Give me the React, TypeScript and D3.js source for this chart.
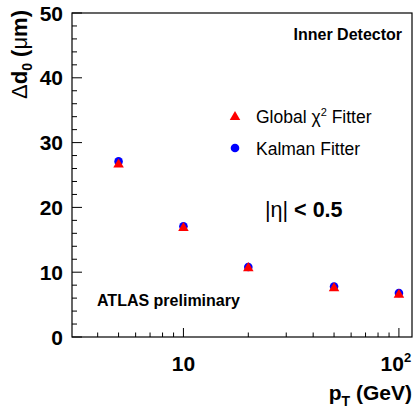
import React, { useEffect, useRef } from 'react';
import * as d3 from 'd3';

// pT points (GeV) and resolution values (um)
const ptValues = [5, 10, 20, 50, 100];
const globalChi2 = [26.7, 16.9, 10.7, 7.6, 6.6];
const kalman = [27.1, 17.1, 10.8, 7.8, 6.8];
const yTicks = [0, 10, 20, 30, 40, 50];

const FONT = '"Liberation Sans", Arial, Helvetica, sans-serif';

const App = () => {
  const svgRef = useRef<SVGSVGElement | null>(null);

  useEffect(() => {
    if (!svgRef.current) return;
    const width = 416;
    const height = 412;
    const m = { left: 72, top: 13, right: 412, bottom: 337 };

    const svg = d3.select(svgRef.current)
      .attr('width', width)
      .attr('height', height)
      .style('display', 'block')
      .style('font-family', FONT);
    svg.selectAll('*').remove();

    const x = d3.scaleLog().domain([3.04, 115]).range([m.left, m.right]);
    const y = d3.scaleLinear().domain([0, 50]).range([m.bottom, m.top]);

    // frame
    svg.append('rect')
      .attr('x', m.left).attr('y', m.top)
      .attr('width', m.right - m.left).attr('height', m.bottom - m.top)
      .attr('fill', 'white').attr('stroke', 'black').attr('stroke-width', 1.2);

    // y ticks (minor every 2)
    const yMinor = d3.range(0, 51, 2).filter(v => v % 10 !== 0);
    svg.append('g').selectAll('line').data(yTicks).join('line')
      .attr('x1', m.left).attr('x2', m.left + 10)
      .attr('y1', d => y(d)).attr('y2', d => y(d))
      .attr('stroke', 'black').attr('stroke-width', 1);
    svg.append('g').selectAll('line').data(yMinor).join('line')
      .attr('x1', m.left).attr('x2', m.left + 5)
      .attr('y1', d => y(d)).attr('y2', d => y(d))
      .attr('stroke', 'black').attr('stroke-width', 1);
    svg.append('g').selectAll('text').data(yTicks).join('text')
      .attr('x', m.left - 9).attr('y', d => y(d))
      .attr('dy', '0.36em')
      .attr('text-anchor', 'end')
      .attr('font-size', 21).attr('font-weight', 'bold')
      .text(d => d);

    // x ticks (log)
    const xMajor = [10, 100];
    const xMinor = [4, 5, 6, 7, 8, 9, 20, 30, 40, 50, 60, 70, 80, 90];
    svg.append('g').selectAll('line').data(xMajor).join('line')
      .attr('x1', d => x(d)).attr('x2', d => x(d))
      .attr('y1', m.bottom).attr('y2', m.bottom - 9)
      .attr('stroke', 'black');
    svg.append('g').selectAll('line').data(xMinor).join('line')
      .attr('x1', d => x(d)).attr('x2', d => x(d))
      .attr('y1', m.bottom).attr('y2', m.bottom - 4.5)
      .attr('stroke', 'black');

    const xl = svg.append('g').attr('font-size', 21).attr('font-weight', 'bold');
    xl.append('text').attr('x', x(10)).attr('y', 371).attr('text-anchor', 'middle').text('10');
    const t100 = xl.append('text').attr('x', x(100) - 3).attr('y', 371).attr('text-anchor', 'middle');
    t100.append('tspan').text('10');
    t100.append('tspan').attr('font-size', 13).attr('dy', -9).text('2');

    // axis titles
    const xt = svg.append('text')
      .attr('x', m.right).attr('y', 400)
      .attr('text-anchor', 'end')
      .attr('font-size', 21).attr('font-weight', 'bold');
    xt.append('tspan').text('p');
    xt.append('tspan').attr('font-size', 14).attr('dy', 6).text('T');
    xt.append('tspan').attr('dy', -6).text(' (GeV)');

    const yt = svg.append('text')
      .attr('transform', `translate(27,${m.top - 3}) rotate(-90)`)
      .attr('text-anchor', 'end')
      .attr('font-size', 22).attr('font-weight', 'bold');
    yt.append('tspan').attr('font-weight', 'normal').text('Δ');
    yt.append('tspan').text('d');
    yt.append('tspan').attr('font-size', 14).attr('dy', 5).text('0');
    yt.append('tspan').attr('dy', -5).text(' (');
    yt.append('tspan').attr('font-weight', 'normal').text('μ');
    yt.append('tspan').text('m)');

    // data markers
    const tri = d3.symbol().type(d3.symbolTriangle).size(48);
    svg.append('g').selectAll('circle').data(ptValues).join('circle')
      .attr('cx', d => x(d)).attr('cy', (d, i) => y(kalman[i]))
      .attr('r', 4.3).attr('fill', '#0000ff');
    svg.append('g').selectAll('path').data(ptValues).join('path')
      .attr('d', tri)
      .attr('transform', (d, i) => `translate(${x(d)},${y(globalChi2[i]) + 0.5})`)
      .attr('fill', '#ff0000');

    // legend
    svg.append('path').attr('d', tri).attr('transform', 'translate(235,117)').attr('fill', '#ff0000');
    svg.append('circle').attr('cx', 235).attr('cy', 148).attr('r', 4.3).attr('fill', '#0000ff');
    const lg = svg.append('text').attr('x', 256).attr('y', 123).attr('font-size', 17.5);
    lg.append('tspan').text('Global ');
    lg.append('tspan').text('χ');
    lg.append('tspan').attr('font-size', 11).attr('dy', -7).text('2');
    lg.append('tspan').attr('dy', 7).text(' Fitter');
    svg.append('text').attr('x', 256).attr('y', 155).attr('font-size', 17.5).text('Kalman Fitter');

    // annotations
    svg.append('text').attr('x', 402).attr('y', 40).attr('text-anchor', 'end')
      .attr('font-size', 16).attr('font-weight', 'bold').text('Inner Detector');
    const eta = svg.append('text').attr('x', 265).attr('y', 217).attr('font-size', 21.5).attr('font-weight', 'bold');
    eta.append('tspan').attr('font-weight', 'normal').text('|η|');
    eta.append('tspan').text(' < 0.5');
    svg.append('text').attr('x', 97).attr('y', 306)
      .attr('font-size', 16).attr('font-weight', 'bold').text('ATLAS preliminary');
  }, []);

  return (
    <div style={{ position: 'absolute', left: 0, top: 0, width: 416, height: 412, overflow: 'hidden' }}>
      <svg ref={svgRef}></svg>
    </div>
  );
};

export default App;
